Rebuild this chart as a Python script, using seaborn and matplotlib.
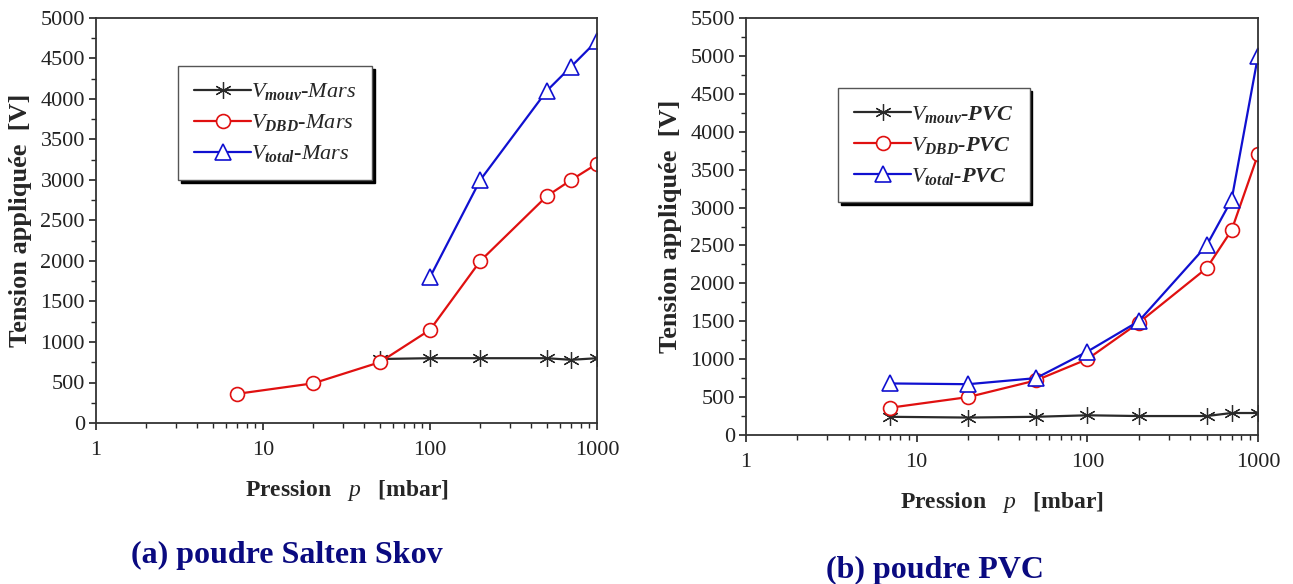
import matplotlib
matplotlib.use("Agg")
import matplotlib.pyplot as plt
import seaborn as sns
import numpy as np
from matplotlib.ticker import MultipleLocator, LogLocator, NullFormatter, FixedLocator, FixedFormatter

# ---- data ----
p_mouv_mars = [50, 100, 200, 500, 700, 1000]
v_mouv_mars = [790, 800, 800, 800, 780, 800]
p_dbd_mars = [7, 20, 50, 100, 200, 500, 700, 1000]
v_dbd_mars = [360, 490, 750, 1150, 2000, 2800, 3000, 3200]
p_total_mars = [100, 200, 500, 700, 1000]
v_total_mars = [1800, 3000, 4100, 4400, 4720]

p_pvc = [7, 20, 50, 100, 200, 500, 700, 1000]
v_mouv_pvc = [240, 230, 240, 260, 250, 250, 290, 290]
v_dbd_pvc = [360, 500, 720, 1000, 1480, 2200, 2700, 3700]
v_total_pvc = [680, 670, 750, 1100, 1500, 2500, 3100, 5000]

x_ticks = [1, 10, 100, 1000]
x_ticklabels = ["1", "10", "100", "1000"]
caption_a = "(a) poudre Salten Skov"
caption_b = "(b) poudre PVC"

sns.set_theme(style="ticks")
plt.rcParams["font.family"] = ["Liberation Serif", "DejaVu Serif"]
plt.rcParams["mathtext.fontset"] = "custom"
plt.rcParams["mathtext.it"] = "Liberation Serif:italic"
plt.rcParams["mathtext.rm"] = "Liberation Serif"
plt.rcParams["mathtext.bf"] = "Liberation Serif:bold:italic"

fig = plt.figure(figsize=(12.93, 5.84), dpi=100)
ax1 = fig.add_axes([96/1293, 1-423/584, 501/1293, 405/584])
ax2 = fig.add_axes([746/1293, 1-435/584, 512/1293, 417/584])

BLACK = "#2a2a2a"
RED = "#e01010"
BLUE = "#1010d0"
ast = (6, 2, 0)

def draw(ax, x, y, color, marker, label, ms, mew=1.2):
    sns.lineplot(x=x, y=y, ax=ax, color=color, marker=marker, markersize=ms,
                 markerfacecolor="white", markeredgecolor=color, markeredgewidth=mew,
                 linewidth=1.6, label=label, estimator=None, sort=False)

for ax in (ax1, ax2):
    ax.set_xscale("log")

draw(ax1, p_mouv_mars, v_mouv_mars, BLACK, ast, r"$V_{\mathbf{mouv}}$-Mars", 12, 0.9)
draw(ax1, p_dbd_mars, v_dbd_mars, RED, "o", r"$V_{\mathbf{DBD}}$-Mars", 10)
draw(ax1, p_total_mars, v_total_mars, BLUE, "^", r"$V_{\mathbf{total}}$-Mars", 11)

draw(ax2, p_pvc, v_mouv_pvc, BLACK, ast, r"$V_{\mathbf{mouv}}$-PVC", 12, 0.9)
draw(ax2, p_pvc, v_dbd_pvc, RED, "o", r"$V_{\mathbf{DBD}}$-PVC", 10)
draw(ax2, p_pvc, v_total_pvc, BLUE, "^", r"$V_{\mathbf{total}}$-PVC", 11)

for ax, ymax in ((ax1, 5000), (ax2, 5500)):
    ax.set_xlim(1, 1000)
    ax.set_ylim(0, ymax)
    ax.xaxis.set_major_locator(FixedLocator(x_ticks))
    ax.xaxis.set_major_formatter(FixedFormatter(x_ticklabels))
    ax.xaxis.set_minor_locator(LogLocator(base=10, subs=np.arange(2, 10)))
    ax.xaxis.set_minor_formatter(NullFormatter())
    ax.yaxis.set_major_locator(MultipleLocator(500))
    ax.yaxis.set_minor_locator(MultipleLocator(250))
    ax.tick_params(which="major", direction="out", length=5, width=1.2,
                   labelsize=16, colors="#222222", pad=3)
    ax.tick_params(axis="x", which="major", pad=8)
    ax.tick_params(which="minor", direction="out", length=3.5, width=1.0)
    ax.tick_params(top=False, right=False, which="both")
    for s in ax.spines.values():
        s.set_visible(True)
        s.set_linewidth(1.3)
        s.set_color("#333333")
    ax.set_xlabel(r"Pression   $p$   [mbar]", fontsize=17, fontweight="bold", labelpad=13)
    ax.set_ylabel("Tension appliquée  [V]", fontsize=19, fontweight="bold", labelpad=6)
    ax.set_facecolor("white")

leg1 = ax1.legend(loc="upper left", bbox_to_anchor=(0.164, 0.882), frameon=True,
                  fancybox=False, shadow={"color": "black", "alpha": 1},
                  prop={"family": "Liberation Serif", "style": "italic", "size": 16},
                  handlelength=2.6, handletextpad=0.0, borderpad=0.7,
                  labelspacing=0.45, borderaxespad=0)
leg1.get_frame().set_edgecolor("#555555")
leg1.get_frame().set_linewidth(1.0)

leg2 = ax2.legend(loc="upper left", bbox_to_anchor=(0.18, 0.832), frameon=True,
                  fancybox=False, shadow={"color": "black", "alpha": 1},
                  prop={"family": "Liberation Serif", "style": "italic", "weight": "bold", "size": 16},
                  handlelength=2.6, handletextpad=0.0, borderpad=0.7,
                  labelspacing=0.45, borderaxespad=0)
leg2.get_frame().set_edgecolor("#555555")
leg2.get_frame().set_linewidth(1.0)

fig.text(287/1293, 1-555/584, caption_a, ha="center", va="center",
         fontsize=23, fontweight="bold", color="#0a0a80")
fig.text(935/1293, 1-570/584, caption_b, ha="center", va="center",
         fontsize=23, fontweight="bold", color="#0a0a80")

fig.savefig("out.png", dpi=100, facecolor="white")
